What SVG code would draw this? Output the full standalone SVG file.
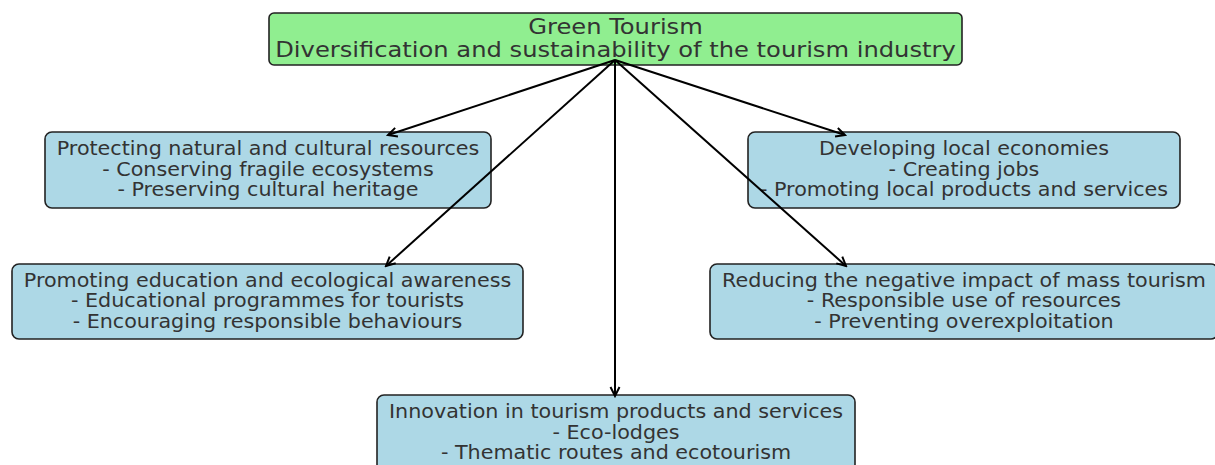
<svg xmlns="http://www.w3.org/2000/svg" width="1215" height="465" viewBox="0 0 1215 465">
<style>
.box{fill:#ADD8E6;stroke:#222;stroke-width:1.6}
.title{fill:#90EE90;stroke:#222;stroke-width:1.6}
text{font-family:"DejaVu Sans",sans-serif;fill:#333;text-anchor:middle}
.t{font-size:18.8px}
.h{font-size:22px}
.c{stroke:#000;stroke-width:2;fill:none}
</style>
<defs>
<marker id="ah" viewBox="-10 -6 12 12" markerWidth="12" markerHeight="12" refX="0" refY="0" orient="auto" markerUnits="userSpaceOnUse">
<path d="M-9,-4.5 L0,0 L-9,4.5" fill="none" stroke="#000" stroke-width="2"/>
</marker>
</defs>
<rect width="1215" height="465" fill="#fff"/>
<g id="root">
<rect class="title" x="269" y="13" width="693" height="52" rx="5"/>
<g transform="translate(615.5,0) scale(1.1,1)">
<text class="h" x="0" y="34">Green Tourism</text>
<text class="h" x="0" y="57">Diversification and sustainability of the tourism industry</text>
</g>
</g>
<g id="protecting">
<rect class="box" x="45" y="132" width="446" height="76" rx="7"/>
<g transform="translate(268,0) scale(1.1,1)">
<text class="t" x="0" y="155.5">Protecting natural and cultural resources</text>
<text class="t" x="0" y="176">- Conserving fragile ecosystems</text>
<text class="t" x="0" y="196.5">- Preserving cultural heritage</text>
</g>
</g>
<g id="developing">
<rect class="box" x="748" y="132" width="432" height="76" rx="7"/>
<g transform="translate(964,0) scale(1.1,1)">
<text class="t" x="0" y="155.5">Developing local economies</text>
<text class="t" x="0" y="176">- Creating jobs</text>
<text class="t" x="0" y="196.5">- Promoting local products and services</text>
</g>
</g>
<g id="education">
<rect class="box" x="12" y="264" width="511" height="75" rx="7"/>
<g transform="translate(267.5,0) scale(1.1,1)">
<text class="t" x="0" y="287">Promoting education and ecological awareness</text>
<text class="t" x="0" y="307.5">- Educational programmes for tourists</text>
<text class="t" x="0" y="328">- Encouraging responsible behaviours</text>
</g>
</g>
<g id="reducing">
<rect class="box" x="710" y="264" width="508" height="75" rx="7"/>
<g transform="translate(964,0) scale(1.1,1)">
<text class="t" x="0" y="287">Reducing the negative impact of mass tourism</text>
<text class="t" x="0" y="307.5">- Responsible use of resources</text>
<text class="t" x="0" y="328">- Preventing overexploitation</text>
</g>
</g>
<g id="innovation">
<rect class="box" x="377" y="395" width="478" height="85" rx="7"/>
<g transform="translate(616,0) scale(1.1,1)">
<text class="t" x="0" y="418">Innovation in tourism products and services</text>
<text class="t" x="0" y="439">- Eco-lodges</text>
<text class="t" x="0" y="459.5">- Thematic routes and ecotourism</text>
</g>
</g>
<g id="connectors">
<line class="c" x1="615" y1="60" x2="388" y2="135" marker-end="url(#ah)"/>
<line class="c" x1="615" y1="60" x2="845" y2="135" marker-end="url(#ah)"/>
<line class="c" x1="615" y1="60" x2="386" y2="266" marker-end="url(#ah)"/>
<line class="c" x1="615" y1="60" x2="846" y2="266" marker-end="url(#ah)"/>
<line class="c" x1="615" y1="60" x2="615" y2="396" marker-end="url(#ah)"/>
</g>
</svg>
